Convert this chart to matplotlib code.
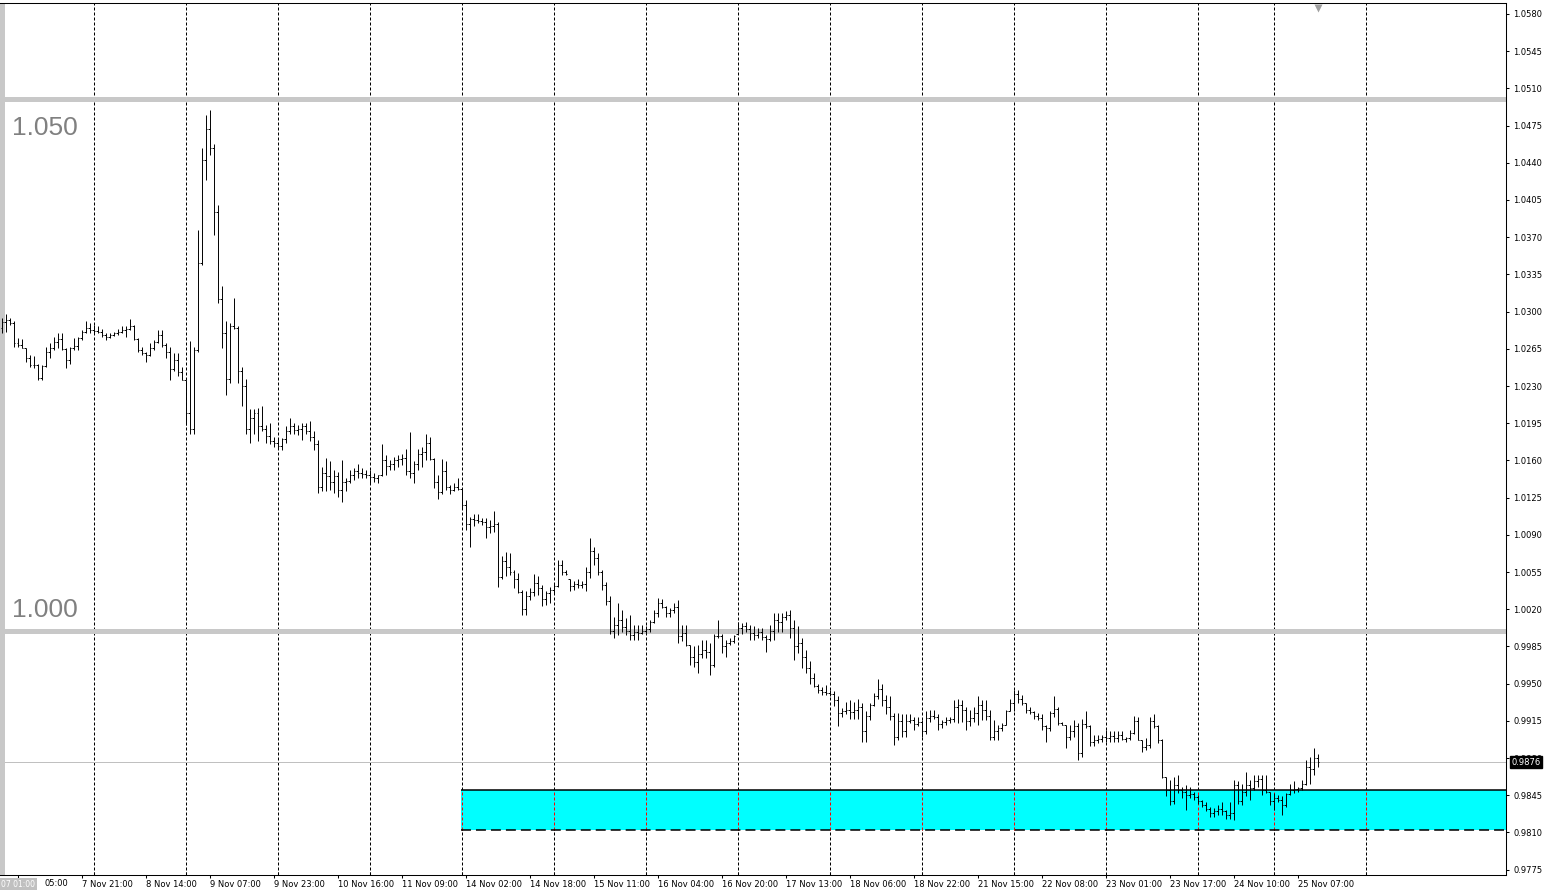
import matplotlib
matplotlib.use("Agg")
import matplotlib.pyplot as plt
import matplotlib.transforms as mtransforms
from matplotlib.collections import LineCollection
from matplotlib.patches import Rectangle
import numpy as np

# H1 bars, 7 Nov - 25 Nov (one hour missing each day, short Thanksgiving session)
days = ['7 Nov', '8 Nov', '9 Nov', '10 Nov', '11 Nov', '14 Nov', '15 Nov', '16 Nov',
        '17 Nov', '18 Nov', '21 Nov', '22 Nov', '23 Nov', '24 Nov', '25 Nov']
bars_per_day = [23] * 13 + [19, 12]

opens = [
    # 7 Nov
    1.0285, 1.0290, 1.0292, 1.0289, 1.0270, 1.0269, 1.0266, 1.0256, 1.0250, 1.0250, 1.0238, 1.0249,
    1.0262, 1.0266, 1.0271, 1.0274, 1.0265, 1.0254, 1.0266, 1.0268, 1.0275, 1.0281, 1.0285,
    # 8 Nov
    1.0283, 1.0282, 1.0281, 1.0278, 1.0276, 1.0278, 1.0280, 1.0281, 1.0283, 1.0284, 1.0286, 1.0274,
    1.0264, 1.0261, 1.0259, 1.0266, 1.0271, 1.0278, 1.0269, 1.0262, 1.0246, 1.0254, 1.0243,
    # 9 Nov
    1.0236, 1.0205, 1.0190, 1.0264, 1.0346, 1.0443, 1.0472, 1.0454, 1.0394, 1.0312, 1.0280, 1.0237,
    1.0286, 1.0285, 1.0244, 1.0230, 1.0190, 1.0200, 1.0205, 1.0192, 1.0190, 1.0183, 1.0178,
    # 10 Nov
    1.0176, 1.0174, 1.0180, 1.0188, 1.0192, 1.0189, 1.0190, 1.0192, 1.0188, 1.0182, 1.0175, 1.0135,
    1.0148, 1.0145, 1.0140, 1.0145, 1.0132, 1.0140, 1.0141, 1.0146, 1.0150, 1.0148, 1.0147,
    # 11 Nov
    1.0146, 1.0144, 1.0143, 1.0146, 1.0160, 1.0155, 1.0157, 1.0160, 1.0161, 1.0162, 1.0150, 1.0148,
    1.0157, 1.0166, 1.0168, 1.0176, 1.0161, 1.0140, 1.0130, 1.0150, 1.0135, 1.0132, 1.0135,
    # 14 Nov
    1.0133, 1.0118, 1.0100, 1.0105, 1.0104, 1.0103, 1.0102, 1.0097, 1.0098, 1.0100, 1.0050, 1.0065,
    1.0060, 1.0055, 1.0048, 1.0036, 1.0020, 1.0032, 1.0036, 1.0045, 1.0040, 1.0030, 1.0035,
    # 15 Nov
    1.0038, 1.0042, 1.0062, 1.0055, 1.0048, 1.0042, 1.0044, 1.0043, 1.0044, 1.0055, 1.0075, 1.0068,
    1.0055, 1.0043, 1.0028, 1.0000, 1.0005, 1.0010, 1.0003, 1.0000, 0.9996, 0.9999, 0.9998,
    # 16 Nov
    1.0000, 1.0001, 1.0008, 1.0016, 1.0026, 1.0022, 1.0016, 1.0019, 1.0022, 0.9995, 0.9998, 0.9986,
    0.9975, 0.9970, 0.9978, 0.9982, 0.9980, 0.9968, 0.9995, 0.9995, 0.9985, 0.9988, 0.9990,
    # 17 Nov
    0.9997, 1.0002, 1.0004, 1.0001, 0.9998, 0.9996, 0.9999, 0.9994, 0.9992, 1.0000, 1.0010, 1.0008,
    1.0013, 1.0015, 1.0002, 0.9985, 0.9988, 0.9975, 0.9965, 0.9955, 0.9948, 0.9944, 0.9942,
    # 18 Nov
    0.9941, 0.9940, 0.9935, 0.9922, 0.9924, 0.9925, 0.9923, 0.9925, 0.9928, 0.9905, 0.9920, 0.9930,
    0.9938, 0.9945, 0.9935, 0.9928, 0.9920, 0.9900, 0.9915, 0.9905, 0.9915, 0.9916, 0.9912,
    # 21 Nov
    0.9914, 0.9905, 0.9918, 0.9920, 0.9919, 0.9912, 0.9914, 0.9916, 0.9917, 0.9928, 0.9930, 0.9925,
    0.9915, 0.9918, 0.9922, 0.9930, 0.9925, 0.9920, 0.9900, 0.9905, 0.9908, 0.9911, 0.9924,
    # 22 Nov
    0.9932, 0.9940, 0.9936, 0.9932, 0.9925, 0.9923, 0.9920, 0.9918, 0.9910, 0.9908, 0.9922, 0.9926,
    0.9913, 0.9911, 0.9900, 0.9905, 0.9910, 0.9885, 0.9912, 0.9910, 0.9895, 0.9897, 0.9898,
    # 23 Nov
    0.9900, 0.9899, 0.9901, 0.9899, 0.9902, 0.9898, 0.9899, 0.9904, 0.9915, 0.9897, 0.9890, 0.9892,
    0.9915, 0.9910, 0.9897, 0.9862, 0.9850, 0.9840, 0.9855, 0.9850, 0.9848, 0.9845, 0.9846,
    # 24 Nov
    0.9843, 0.9840, 0.9836, 0.9832, 0.9828, 0.9830, 0.9832, 0.9830, 0.9826, 0.9828, 0.9855, 0.9840,
    0.9848, 0.9855, 0.9852, 0.9858, 0.9860, 0.9850, 0.9848,
    # 25 Nov
    0.9840, 0.9842, 0.9841, 0.9836, 0.9846, 0.9850, 0.9851, 0.9852, 0.9856, 0.9872, 0.9870, 0.9880,
]

highs = [
    1.0294, 1.0298, 1.0294, 1.0291, 1.0275, 1.0274, 1.0266, 1.0259, 1.0258, 1.0251, 1.0250, 1.0267,
    1.0270, 1.0276, 1.0280, 1.0280, 1.0266, 1.0267, 1.0275, 1.0276, 1.0283, 1.0291, 1.0289,
    1.0287, 1.0286, 1.0284, 1.0280, 1.0280, 1.0281, 1.0284, 1.0286, 1.0286, 1.0293, 1.0287, 1.0275,
    1.0267, 1.0262, 1.0270, 1.0273, 1.0283, 1.0283, 1.0270, 1.0267, 1.0261, 1.0261, 1.0248,
    1.0236, 1.0272, 1.0267, 1.0377, 1.0454, 1.0485, 1.0490, 1.0458, 1.0400, 1.0324, 1.0291, 1.0289,
    1.0313, 1.0286, 1.0248, 1.0237, 1.0208, 1.0208, 1.0209, 1.0211, 1.0193, 1.0195, 1.0182,
    1.0181, 1.0181, 1.0192, 1.0200, 1.0195, 1.0193, 1.0195, 1.0195, 1.0197, 1.0188, 1.0179, 1.0154,
    1.0162, 1.0159, 1.0151, 1.0149, 1.0160, 1.0143, 1.0151, 1.0153, 1.0157, 1.0153, 1.0151,
    1.0151, 1.0148, 1.0146, 1.0175, 1.0165, 1.0160, 1.0163, 1.0165, 1.0166, 1.0171, 1.0187, 1.0159,
    1.0171, 1.0173, 1.0185, 1.0182, 1.0162, 1.0146, 1.0161, 1.0159, 1.0137, 1.0139, 1.0143,
    1.0134, 1.0123, 1.0107, 1.0110, 1.0110, 1.0106, 1.0106, 1.0104, 1.0112, 1.0102, 1.0070, 1.0074,
    1.0073, 1.0057, 1.0054, 1.0038, 1.0037, 1.0040, 1.0053, 1.0051, 1.0043, 1.0037, 1.0041,
    1.0044, 1.0066, 1.0066, 1.0057, 1.0048, 1.0047, 1.0048, 1.0047, 1.0060, 1.0087, 1.0079, 1.0073,
    1.0057, 1.0046, 1.0032, 1.0013, 1.0026, 1.0019, 1.0012, 1.0015, 1.0005, 1.0005, 1.0005,
    1.0004, 1.0010, 1.0019, 1.0031, 1.0030, 1.0023, 1.0021, 1.0026, 1.0029, 1.0005, 1.0005, 0.9986,
    0.9985, 0.9986, 0.9991, 0.9991, 0.9988, 0.9997, 1.0010, 0.9997, 0.9991, 0.9993, 0.9996,
    1.0008, 1.0007, 1.0008, 1.0005, 1.0004, 1.0002, 1.0002, 0.9996, 1.0005, 1.0016, 1.0016, 1.0016,
    1.0018, 1.0019, 1.0010, 1.0004, 0.9993, 0.9982, 0.9971, 0.9960, 0.9950, 0.9947, 0.9949,
    0.9944, 0.9943, 0.9938, 0.9927, 0.9933, 0.9935, 0.9933, 0.9936, 0.9932, 0.9924, 0.9932, 0.9941,
    0.9954, 0.9950, 0.9939, 0.9938, 0.9922, 0.9922, 0.9921, 0.9921, 0.9921, 0.9919, 0.9919,
    0.9916, 0.9924, 0.9925, 0.9925, 0.9921, 0.9916, 0.9919, 0.9919, 0.9935, 0.9936, 0.9935, 0.9928,
    0.9925, 0.9928, 0.9938, 0.9935, 0.9935, 0.9925, 0.9916, 0.9911, 0.9913, 0.9925, 0.9936,
    0.9944, 0.9944, 0.9939, 0.9932, 0.9928, 0.9924, 0.9922, 0.9921, 0.9911, 0.9924, 0.9938, 0.9928,
    0.9914, 0.9911, 0.9911, 0.9916, 0.9913, 0.9917, 0.9924, 0.9911, 0.9902, 0.9902, 0.9902,
    0.9906, 0.9905, 0.9905, 0.9905, 0.9905, 0.9900, 0.9906, 0.9920, 0.9919, 0.9897, 0.9899, 0.9919,
    0.9921, 0.9911, 0.9898, 0.9862, 0.9859, 0.9862, 0.9864, 0.9853, 0.9855, 0.9853, 0.9848,
    0.9845, 0.9841, 0.9839, 0.9834, 0.9833, 0.9836, 0.9839, 0.9831, 0.9839, 0.9859, 0.9858, 0.9856,
    0.9867, 0.9859, 0.9864, 0.9864, 0.9864, 0.9864, 0.9848,
    0.9847, 0.9845, 0.9844, 0.9847, 0.9856, 0.9858, 0.9853, 0.9859, 0.9878, 0.9881, 0.9889, 0.9884,
]

lows = [
    1.0280, 1.0281, 1.0287, 1.0267, 1.0267, 1.0266, 1.0253, 1.0248, 1.0247, 1.0236, 1.0236, 1.0248,
    1.0256, 1.0264, 1.0266, 1.0264, 1.0247, 1.0251, 1.0264, 1.0264, 1.0273, 1.0280, 1.0280,
    1.0280, 1.0280, 1.0276, 1.0273, 1.0275, 1.0277, 1.0278, 1.0280, 1.0276, 1.0283, 1.0273, 1.0262,
    1.0259, 1.0253, 1.0258, 1.0264, 1.0270, 1.0267, 1.0256, 1.0236, 1.0244, 1.0239, 1.0236,
    1.0193, 1.0185, 1.0185, 1.0262, 1.0344, 1.0424, 1.0447, 1.0372, 1.0308, 1.0266, 1.0222, 1.0233,
    1.0284, 1.0233, 1.0211, 1.0185, 1.0176, 1.0185, 1.0178, 1.0188, 1.0176, 1.0175, 1.0173,
    1.0171, 1.0170, 1.0176, 1.0185, 1.0185, 1.0184, 1.0179, 1.0185, 1.0178, 1.0170, 1.0129, 1.0131,
    1.0131, 1.0132, 1.0129, 1.0126, 1.0121, 1.0131, 1.0139, 1.0142, 1.0143, 1.0143, 1.0143,
    1.0139, 1.0140, 1.0139, 1.0145, 1.0146, 1.0151, 1.0151, 1.0154, 1.0156, 1.0146, 1.0143, 1.0139,
    1.0151, 1.0154, 1.0160, 1.0160, 1.0134, 1.0124, 1.0128, 1.0132, 1.0128, 1.0131, 1.0132,
    1.0115, 1.0095, 1.0079, 1.0098, 1.0101, 1.0099, 1.0087, 1.0092, 1.0093, 1.0041, 1.0048, 1.0051,
    1.0052, 1.0040, 1.0035, 1.0015, 1.0015, 1.0029, 1.0032, 1.0033, 1.0023, 1.0024, 1.0026,
    1.0035, 1.0041, 1.0052, 1.0052, 1.0037, 1.0038, 1.0040, 1.0040, 1.0037, 1.0049, 1.0062, 1.0052,
    1.0038, 1.0024, 0.9997, 0.9993, 0.9996, 0.9999, 0.9996, 0.9991, 0.9991, 0.9991, 0.9997,
    0.9997, 0.9999, 1.0007, 1.0013, 1.0021, 1.0013, 1.0013, 1.0016, 0.9988, 0.9990, 0.9985, 0.9968,
    0.9966, 0.9960, 0.9974, 0.9974, 0.9958, 0.9966, 0.9993, 0.9979, 0.9975, 0.9986, 0.9988,
    0.9997, 0.9997, 0.9999, 0.9991, 0.9991, 0.9993, 0.9991, 0.9980, 0.9990, 0.9991, 0.9999, 0.9999,
    1.0010, 0.9993, 0.9972, 0.9979, 0.9965, 0.9960, 0.9950, 0.9947, 0.9941, 0.9939, 0.9939,
    0.9938, 0.9929, 0.9910, 0.9919, 0.9921, 0.9917, 0.9917, 0.9917, 0.9895, 0.9895, 0.9916, 0.9929,
    0.9936, 0.9929, 0.9921, 0.9916, 0.9892, 0.9897, 0.9900, 0.9900, 0.9913, 0.9906, 0.9910,
    0.9900, 0.9903, 0.9914, 0.9917, 0.9906, 0.9908, 0.9911, 0.9913, 0.9914, 0.9913, 0.9914, 0.9906,
    0.9910, 0.9914, 0.9911, 0.9916, 0.9916, 0.9897, 0.9897, 0.9897, 0.9905, 0.9911, 0.9924,
    0.9924, 0.9932, 0.9930, 0.9922, 0.9921, 0.9917, 0.9916, 0.9906, 0.9895, 0.9905, 0.9919, 0.9911,
    0.9911, 0.9889, 0.9897, 0.9900, 0.9878, 0.9881, 0.9908, 0.9891, 0.9891, 0.9894, 0.9895,
    0.9895, 0.9895, 0.9895, 0.9895, 0.9897, 0.9895, 0.9897, 0.9903, 0.9897, 0.9886, 0.9888, 0.9889,
    0.9908, 0.9894, 0.9861, 0.9844, 0.9836, 0.9837, 0.9847, 0.9842, 0.9831, 0.9842, 0.9841,
    0.9837, 0.9834, 0.9830, 0.9825, 0.9825, 0.9826, 0.9826, 0.9823, 0.9823, 0.9822, 0.9837, 0.9836,
    0.9844, 0.9841, 0.9850, 0.9853, 0.9845, 0.9847, 0.9836,
    0.9831, 0.9839, 0.9826, 0.9834, 0.9845, 0.9847, 0.9848, 0.9850, 0.9855, 0.9856, 0.9864, 0.9872,
]

closes = [
    1.0290, 1.0292, 1.0289, 1.0270, 1.0269, 1.0266, 1.0256, 1.0250, 1.0250, 1.0238, 1.0249, 1.0262,
    1.0266, 1.0271, 1.0274, 1.0265, 1.0254, 1.0266, 1.0268, 1.0275, 1.0281, 1.0285, 1.0283,
    1.0282, 1.0281, 1.0278, 1.0276, 1.0278, 1.0280, 1.0281, 1.0283, 1.0284, 1.0286, 1.0274, 1.0264,
    1.0261, 1.0259, 1.0266, 1.0271, 1.0278, 1.0269, 1.0262, 1.0246, 1.0254, 1.0243, 1.0236,
    1.0205, 1.0190, 1.0264, 1.0346, 1.0443, 1.0472, 1.0454, 1.0394, 1.0312, 1.0280, 1.0237, 1.0286,
    1.0285, 1.0244, 1.0230, 1.0190, 1.0200, 1.0205, 1.0192, 1.0190, 1.0183, 1.0178, 1.0176,
    1.0174, 1.0180, 1.0188, 1.0192, 1.0189, 1.0190, 1.0192, 1.0188, 1.0182, 1.0175, 1.0135, 1.0148,
    1.0145, 1.0140, 1.0145, 1.0132, 1.0140, 1.0141, 1.0146, 1.0150, 1.0148, 1.0147, 1.0146,
    1.0144, 1.0143, 1.0146, 1.0160, 1.0155, 1.0157, 1.0160, 1.0161, 1.0162, 1.0150, 1.0148, 1.0157,
    1.0166, 1.0168, 1.0176, 1.0161, 1.0140, 1.0130, 1.0150, 1.0135, 1.0132, 1.0135, 1.0133,
    1.0118, 1.0100, 1.0105, 1.0104, 1.0103, 1.0102, 1.0097, 1.0098, 1.0100, 1.0050, 1.0065, 1.0060,
    1.0055, 1.0048, 1.0036, 1.0020, 1.0032, 1.0036, 1.0045, 1.0040, 1.0030, 1.0035, 1.0038,
    1.0042, 1.0062, 1.0055, 1.0053, 1.0042, 1.0044, 1.0043, 1.0044, 1.0055, 1.0075, 1.0068, 1.0055,
    1.0043, 1.0028, 1.0000, 1.0005, 1.0010, 1.0003, 1.0000, 0.9996, 0.9999, 0.9998, 1.0000,
    1.0001, 1.0008, 1.0016, 1.0026, 1.0022, 1.0016, 1.0019, 1.0022, 0.9995, 0.9998, 0.9986, 0.9975,
    0.9970, 0.9978, 0.9982, 0.9980, 0.9968, 0.9995, 0.9995, 0.9985, 0.9988, 0.9990, 0.9995,
    1.0002, 1.0004, 1.0001, 0.9998, 0.9996, 0.9999, 0.9994, 0.9992, 1.0000, 1.0010, 1.0008, 1.0013,
    1.0015, 1.0002, 0.9985, 0.9988, 0.9975, 0.9965, 0.9955, 0.9948, 0.9944, 0.9942, 0.9941,
    0.9940, 0.9935, 0.9922, 0.9924, 0.9925, 0.9923, 0.9925, 0.9928, 0.9905, 0.9920, 0.9930, 0.9938,
    0.9945, 0.9935, 0.9928, 0.9920, 0.9900, 0.9915, 0.9905, 0.9915, 0.9916, 0.9912, 0.9914,
    0.9905, 0.9918, 0.9920, 0.9919, 0.9912, 0.9914, 0.9916, 0.9917, 0.9928, 0.9930, 0.9925, 0.9915,
    0.9918, 0.9922, 0.9930, 0.9925, 0.9920, 0.9900, 0.9905, 0.9908, 0.9911, 0.9924, 0.9932,
    0.9940, 0.9936, 0.9932, 0.9925, 0.9923, 0.9920, 0.9918, 0.9910, 0.9908, 0.9922, 0.9926, 0.9913,
    0.9911, 0.9900, 0.9905, 0.9910, 0.9885, 0.9912, 0.9910, 0.9895, 0.9897, 0.9898, 0.9900,
    0.9899, 0.9901, 0.9899, 0.9902, 0.9898, 0.9899, 0.9904, 0.9915, 0.9897, 0.9890, 0.9892, 0.9915,
    0.9910, 0.9897, 0.9862, 0.9850, 0.9840, 0.9855, 0.9850, 0.9848, 0.9845, 0.9846, 0.9843,
    0.9840, 0.9836, 0.9832, 0.9828, 0.9830, 0.9832, 0.9830, 0.9826, 0.9828, 0.9855, 0.9840, 0.9848,
    0.9855, 0.9852, 0.9858, 0.9860, 0.9850, 0.9848, 0.9840,
    0.9842, 0.9841, 0.9836, 0.9846, 0.9850, 0.9851, 0.9852, 0.9856, 0.9872, 0.9870, 0.9880, 0.9876,
]

levels = [1.050, 1.000]
level_texts = ['1.050', '1.000']
level_text_y = [1.0466, 1.0013]
zone_top = 0.9850
zone_bottom = 0.9812
zone_day = '14 Nov'
price_ticks = np.round(0.9775 + 0.0035 * np.arange(24), 4)

n = sum(bars_per_day)
assert len(opens) == len(highs) == len(lows) == len(closes) == n

# time labels for each bar
bar_time = []
for d, cnt in zip(days, bars_per_day):
    for h in range(1, cnt + 1):
        bar_time.append('%s %02d:00' % (d, h))
day_start = list(np.cumsum([0] + bars_per_day[:-1]))
grid_bars = day_start[1:] + [day_start[-1] + 23]
label_bars = list(range(4, n, 16))

fig = plt.figure(figsize=(15.46, 8.96), dpi=100)
ax = fig.add_axes([0, 21 / 896, 1506 / 1546, 872 / 896])
x0, x1 = -0.425, 376.075
y0, y1 = 0.97700, 1.05903
ax.set_xlim(x0, x1)
ax.set_ylim(y0, y1)

# day separators
ax.vlines(grid_bars, y0, y1, colors='black', linestyles=(0, (3, 2)), lw=0.72, zorder=1)

# horizontal levels
for lv, txt, ty in zip(levels, level_texts, level_text_y):
    ax.axhline(lv, color='#c8c8c8', lw=3.6, zorder=1.5)
    ax.text(2.6, ty, txt, fontsize=19, family='Liberation Sans', color='#808080',
            va='baseline', ha='left', zorder=1.6)
ax.plot([0.0016, 0.0016], [0, 1], transform=ax.transAxes, color='#c8c8c8', lw=3.6,
        solid_capstyle='butt', zorder=1.5, clip_on=False)

# support zone
zx0 = day_start[days.index(zone_day)] - 0.25
ax.add_patch(Rectangle((zx0, zone_bottom), x1 - zx0, zone_top - zone_bottom,
                       facecolor='#00ffff', edgecolor='none', zorder=2))
ax.hlines(zone_top, zx0, x1, colors='black', lw=1.1, zorder=3)
ax.hlines(zone_bottom, zx0, x1, colors='black', lw=1.1, linestyles=(0, (6.5, 3.3)), zorder=3)
ax.vlines([g for g in grid_bars if g > zx0], zone_bottom, zone_top, colors='#ff0000',
          linestyles=(0, (3, 2)), lw=0.72, zorder=2.5)

# bid line
ax.axhline(closes[-1], color='#c0c0c0', lw=0.72, zorder=1.2)

# OHLC bars
segs = []
for i in range(n):
    segs.append([(i, lows[i]), (i, highs[i])])
    segs.append([(i - 0.3, opens[i]), (i, opens[i])])
    segs.append([(i, closes[i]), (i + 0.3, closes[i])])
ax.add_collection(LineCollection(segs, colors='black', linewidths=0.7,
                                 antialiaseds=True, zorder=4))

# chart shift marker
trans_x = mtransforms.blended_transform_factory(ax.transData, ax.transAxes)
ax.plot([n - 1], [0.994], marker='v', ms=6, color='#a0a0a0', mec='none',
        transform=trans_x, clip_on=False, zorder=5)

# axes styling
for s in ['top', 'right', 'bottom']:
    ax.spines[s].set_linewidth(0.75)
    ax.spines[s].set_color('black')
ax.spines['left'].set_visible(False)

ax.yaxis.tick_right()
ax.set_yticks(price_ticks)
ax.set_yticklabels(['%.4f' % v for v in price_ticks])
ax.tick_params(axis='y', which='major', direction='out', length=2.2, width=0.75,
               pad=3, labelsize=6, colors='black')

# first label is mostly hidden behind the first-bar box, only the hour shows
xlabels = [bar_time[b] for b in label_bars]
xlabels[0] = ''
ax.set_xticks(label_bars)
ax.set_xticklabels(xlabels, ha='left')
ax.set_xticks(grid_bars, minor=True)
ax.tick_params(axis='x', which='major', direction='out', length=2.2, width=0.75,
               pad=1.5, labelsize=6)
ax.tick_params(axis='x', which='minor', direction='in', length=2.2, width=0.75)
ax.text(label_bars[0] + 6.8, y0, bar_time[label_bars[0]].split(' ')[-1],
        fontsize=6, ha='left', va='top', clip_on=False,
        transform=mtransforms.offset_copy(ax.transData, fig=fig, y=-4.0, units='dots'))

# current price box
trans_y = mtransforms.blended_transform_factory(ax.transAxes, ax.transData)
ax.text(1.0035, closes[-1], '%.4f' % closes[-1], transform=trans_y, fontsize=6,
        color='white', va='center', ha='left', zorder=10, clip_on=False,
        bbox=dict(boxstyle='square,pad=0.2', fc='black', ec='black'))

# first bar time box
fig.text(1 / 1546, 1 - 884 / 896, '07 01:00', fontsize=5.5, color='white',
         va='center', ha='left',
         bbox=dict(boxstyle='square,pad=0.25', fc='#c0c0c0', ec='none'))

fig.savefig('out.png', dpi=100)
